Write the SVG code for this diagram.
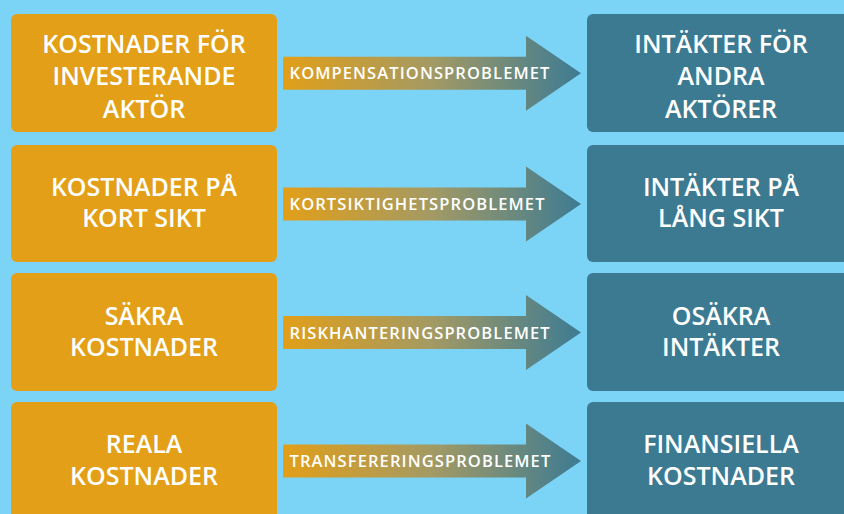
<svg xmlns="http://www.w3.org/2000/svg" width="844" height="514" viewBox="0 0 844 514">
<defs>
<linearGradient id="ag" x1="0" y1="0" x2="1" y2="0">
<stop offset="0" stop-color="#e29f18"/>
<stop offset="0.5" stop-color="#a39a64"/>
<stop offset="1" stop-color="#3d7b93"/>
</linearGradient>
<path id="arrow" d="M283,-16.5 H526 V-37.5 L581,0 L526,37.5 V16.5 H283 Z"/>
</defs>
<style>
.bg{fill:#7bd3f5}
.l{fill:#e29f17}
.r{fill:#3c7a92}
.t{font-family:"Open Sans","Noto Sans","Liberation Sans",sans-serif;font-weight:600;font-size:25px;fill:#ffffff;text-anchor:middle}
.a{font-family:"Open Sans","Noto Sans","Liberation Sans",sans-serif;font-weight:600;font-size:16.5px;fill:#ffffff;letter-spacing:1.1px}
.ar{fill:url(#ag)}
</style>
<rect class="bg" x="0" y="0" width="844" height="514"/>
<g id="left1"><rect class="l" x="11" y="14" width="266" height="118" rx="6"/>
<text class="t"><tspan x="144" y="52.5">KOSTNADER FÖR</tspan><tspan x="144" y="85">INVESTERANDE</tspan><tspan x="144" y="117.5">AKTÖR</tspan></text></g>
<g id="left2"><rect class="l" x="11" y="145" width="266" height="117" rx="6"/>
<text class="t"><tspan x="144" y="196">KOSTNADER PÅ</tspan><tspan x="144" y="227">KORT SIKT</tspan></text></g>
<g id="left3"><rect class="l" x="11" y="273" width="266" height="118" rx="6"/>
<text class="t"><tspan x="144" y="325">SÄKRA</tspan><tspan x="144" y="356">KOSTNADER</tspan></text></g>
<g id="left4"><rect class="l" x="11" y="402" width="266" height="130" rx="6"/>
<text class="t"><tspan x="144" y="453">REALA</tspan><tspan x="144" y="484.5">KOSTNADER</tspan></text></g>
<g id="right1"><rect class="r" x="587" y="14" width="268" height="118" rx="6"/>
<text class="t"><tspan x="721" y="52.5">INTÄKTER FÖR</tspan><tspan x="721" y="85">ANDRA</tspan><tspan x="721" y="117.5">AKTÖRER</tspan></text></g>
<g id="right2"><rect class="r" x="587" y="145" width="268" height="117" rx="6"/>
<text class="t"><tspan x="721" y="196">INTÄKTER PÅ</tspan><tspan x="721" y="227">LÅNG SIKT</tspan></text></g>
<g id="right3"><rect class="r" x="587" y="273" width="268" height="118" rx="6"/>
<text class="t"><tspan x="721" y="325">OSÄKRA</tspan><tspan x="721" y="356">INTÄKTER</tspan></text></g>
<g id="right4"><rect class="r" x="587" y="402" width="268" height="130" rx="6"/>
<text class="t"><tspan x="721" y="453">FINANSIELLA</tspan><tspan x="721" y="484.5">KOSTNADER</tspan></text></g>
<g id="connectors">
<g transform="translate(0,73.3)"><use href="#arrow" class="ar"/><text class="a" x="289.5" y="6">KOMPENSATIONSPROBLEMET</text></g>
<g transform="translate(0,204)"><use href="#arrow" class="ar"/><text class="a" x="289.5" y="6">KORTSIKTIGHETSPROBLEMET</text></g>
<g transform="translate(0,332.5)"><use href="#arrow" class="ar"/><text class="a" x="289.5" y="6">RISKHANTERINGSPROBLEMET</text></g>
<g transform="translate(0,461)"><use href="#arrow" class="ar"/><text class="a" x="289.5" y="6">TRANSFERERINGSPROBLEMET</text></g>
</g>
</svg>
